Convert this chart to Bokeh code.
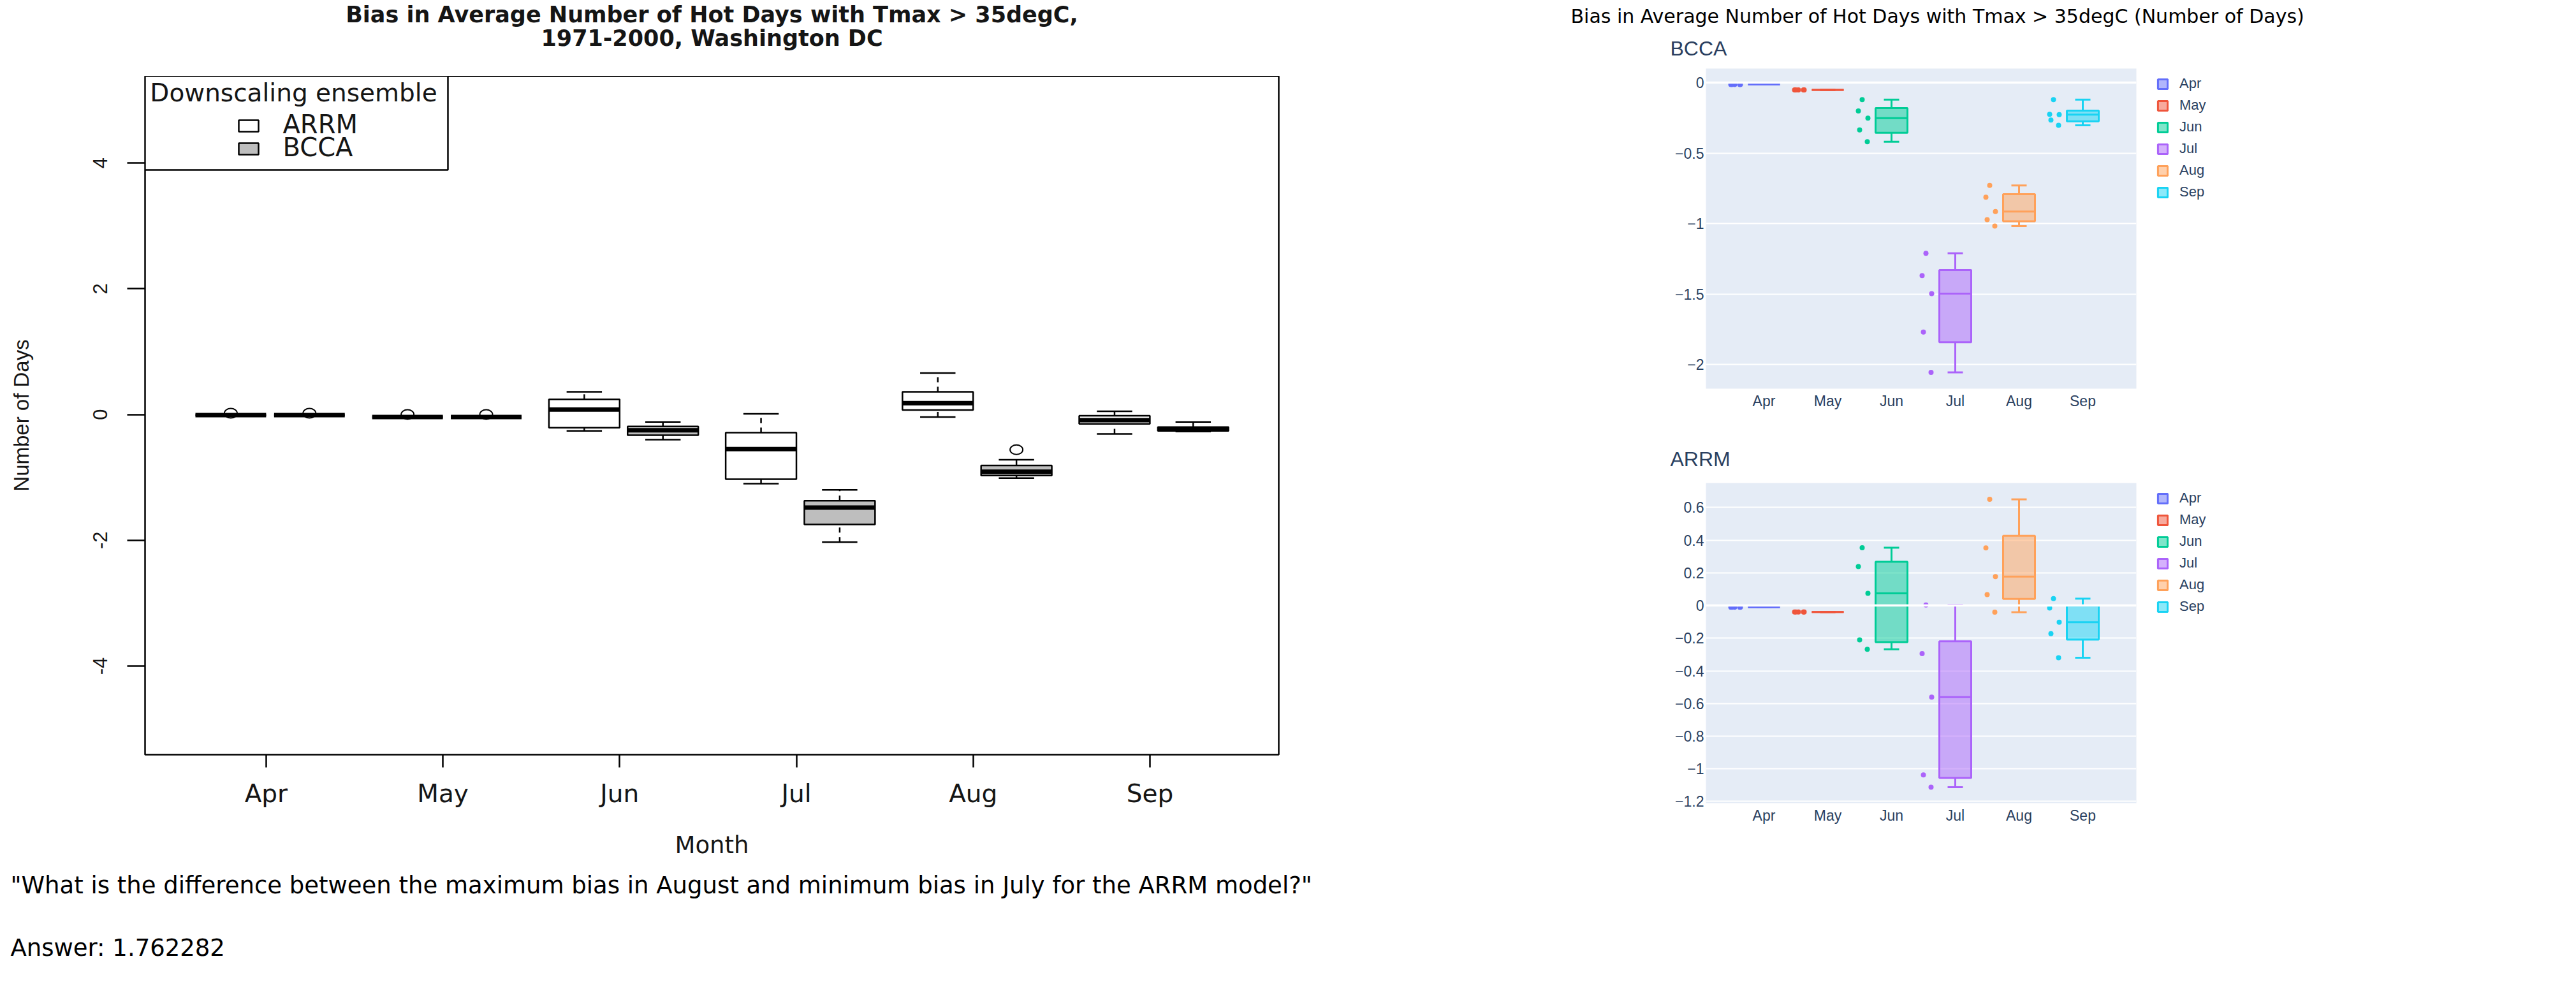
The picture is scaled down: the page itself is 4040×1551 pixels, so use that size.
import numpy as np
from bokeh.plotting import figure
from bokeh.models import Range1d, FixedTicker, Title, Legend, LegendItem, Span
from bokeh.layouts import row, column
from bokeh.embed import file_html
from bokeh.resources import INLINE
from bokeh.core.properties import value

MONTHS = ["Apr", "May", "Jun", "Jul", "Aug", "Sep"]

# ---------------- left (R boxplot) : summary values ----------------
R_ARRM_LO  = [-0.01, -0.04, -0.26, -1.10, -0.04, -0.31]
R_ARRM_Q1  = [-0.01, -0.04, -0.21, -1.03,  0.07, -0.15]
R_ARRM_MED = [-0.01, -0.04,  0.08, -0.55,  0.18, -0.09]
R_ARRM_Q3  = [-0.01, -0.04,  0.24, -0.29,  0.36, -0.02]
R_ARRM_HI  = [-0.01, -0.04,  0.36,  0.01,  0.66,  0.05]
R_BCCA_LO  = [-0.01, -0.04, -0.40, -2.03, -1.01, -0.27]
R_BCCA_Q1  = [-0.01, -0.04, -0.33, -1.75, -0.97, -0.26]
R_BCCA_MED = [-0.01, -0.04, -0.25, -1.48, -0.91, -0.23]
R_BCCA_Q3  = [-0.01, -0.04, -0.19, -1.37, -0.81, -0.20]
R_BCCA_HI  = [-0.01, -0.04, -0.12, -1.20, -0.72, -0.12]
R_ARRM_OUT_MONTH = ["Apr", "May"]
R_ARRM_OUT_VAL = [0.02, 0.00]
R_BCCA_OUT_MONTH = ["Apr", "May", "Aug"]
R_BCCA_OUT_VAL = [0.02, 0.00, -0.56]
R_Y_TICKS = [-4, -2, 0, 2, 4]
R_TITLE_1 = "Bias in Average Number of Hot Days with Tmax > 35degC,"
R_TITLE_2 = "1971-2000, Washington DC"

# ---------------- right (plotly-style) : ensemble member values per month ----------------
ARRM_APR = [-0.01, -0.01, -0.01, -0.01, -0.01]
ARRM_MAY = [-0.04, -0.04, -0.04, -0.04, -0.04]
ARRM_JUN = [0.354, 0.239, 0.075, -0.210, -0.268]
ARRM_JUL = [0.003, -0.294, -0.561, -1.037, -1.112]
ARRM_AUG = [0.650, 0.353, 0.177, 0.067, -0.041]
ARRM_SEP = [0.042, -0.015, -0.102, -0.172, -0.320]
BCCA_APR = [-0.013, -0.013, -0.013, -0.013, -0.013]
BCCA_MAY = [-0.051, -0.051, -0.051, -0.051, -0.051]
BCCA_JUN = [-0.120, -0.201, -0.252, -0.335, -0.419]
BCCA_JUL = [-1.210, -1.368, -1.496, -1.769, -2.055]
BCCA_AUG = [-0.729, -0.812, -0.914, -0.972, -1.017]
BCCA_SEP = [-0.120, -0.224, -0.227, -0.265, -0.303]
BCCA_TICKS = [0, -0.5, -1, -1.5, -2]
ARRM_TICKS = [0.6, 0.4, 0.2, 0, -0.2, -0.4, -0.6, -0.8, -1, -1.2]

QUESTION = '"What is the difference between the maximum bias in August and minimum bias in July for the ARRM model?"'
ANSWER = "Answer: 1.762282"

# ---------------- styles ----------------
PCOLORS = ["#636EFA", "#EF553B", "#00CC96", "#AB63FA", "#FFA15A", "#19D3F3"]
JITTER = [-0.46, -0.52, -0.37, -0.50, -0.38]
INK = "#151515"
PTXT = "#2a3f5f"

# ======================= LEFT FIGURE =======================
LEFT_COL_W = 2440
LF_LEFT, LF_TOP, LF_W, LF_H = 227, 119, 1778, 1064
LF_RIGHT_BORDER = LEFT_COL_W - LF_LEFT - LF_W
LX0, LX1 = -0.685, 5.729
LY0, LY1 = -5.409, 5.379


def lx(px):
    return LX0 + (px - LF_LEFT) * (LX1 - LX0) / LF_W


def ly(py):
    return LY1 - (py - LF_TOP) * (LY1 - LY0) / LF_H


# title strip above the R chart (frame spans the same columns as the chart frame)
tfig = figure(frame_width=LF_W, frame_height=LF_TOP, title=None,
              x_range=Range1d(0, 1), y_range=Range1d(LF_TOP, 0),
              output_backend="svg", toolbar_location=None,
              min_border_left=LF_LEFT, min_border_right=LF_RIGHT_BORDER,
              min_border_top=0, min_border_bottom=0)
tfig.axis.visible = False
tfig.grid.visible = False
tfig.outline_line_color = None
tfig.text(x=[0.5, 0.5], y=[22, 59], text=[R_TITLE_1, R_TITLE_2], text_align="center",
          text_baseline="middle", text_font=value("DejaVu Sans"), text_font_size="35px",
          text_font_style="bold", text_color=INK)

left = figure(frame_width=LF_W, frame_height=LF_H, title=None,
              x_range=Range1d(LX0, LX1), y_range=Range1d(LY0, LY1),
              output_backend="svg", toolbar_location=None,
              min_border_left=LF_LEFT, min_border_top=0,
              min_border_right=LF_RIGHT_BORDER, min_border_bottom=0,
              background_fill_color="white", border_fill_color="white")
left.xgrid.visible = False
left.ygrid.visible = False
left.outline_line_color = "black"
left.outline_line_width = 2.5

xi = list(range(len(MONTHS)))
left.xaxis.ticker = FixedTicker(ticks=xi)
left.xaxis.major_label_overrides = {i: m for i, m in zip(xi, MONTHS)}
left.yaxis.ticker = FixedTicker(ticks=R_Y_TICKS)
left.yaxis.major_label_overrides = {t: str(t) for t in R_Y_TICKS}
for ax in (left.xaxis, left.yaxis):
    ax.axis_line_color = None
    ax.minor_tick_line_color = None
    ax.major_tick_line_color = "black"
    ax.major_tick_line_width = 2.5
    ax.major_tick_in = 0
    ax.major_label_text_color = INK
    ax.axis_label_text_color = INK
    ax.axis_label_text_font_style = "normal"
left.xaxis.major_tick_out = 20
left.xaxis.major_label_text_font = "DejaVu Sans"
left.xaxis.major_label_text_font_size = "39px"
left.xaxis.major_label_standoff = 18
left.xaxis.axis_label = "Month"
left.xaxis.axis_label_text_font = "DejaVu Sans"
left.xaxis.axis_label_text_font_size = "37px"
left.xaxis.axis_label_standoff = 34
left.yaxis.major_tick_out = 28
left.yaxis.major_label_orientation = "vertical"
left.yaxis.major_label_text_font = "Liberation Sans"
left.yaxis.major_label_text_font_size = "31px"
left.yaxis.major_label_standoff = 31
left.yaxis.axis_label = "Number of Days"
left.yaxis.axis_label_text_font = "Liberation Sans"
left.yaxis.axis_label_text_font_size = "33px"
left.yaxis.axis_label_standoff = 92

# question / answer under the chart
q_title = Title(text=QUESTION, align="left", offset=11 - LF_LEFT + 5, text_font="DejaVu Sans",
                text_font_size="37px", text_font_style="normal", text_color="black", standoff=31)
left.add_layout(q_title, "below")
a_title = Title(text=ANSWER, align="left", offset=11 - LF_LEFT + 5, text_font="DejaVu Sans",
                text_font_size="37px", text_font_style="normal", text_color="black", standoff=74)
left.add_layout(a_title, "below")


def r_boxes(p, offset, lo, q1, med, q3, hi, fill):
    x = [i + offset for i in xi]
    half, cap = 0.2, 0.1
    p.segment(x0=x, y0=q3, x1=x, y1=hi, line_color="black", line_width=2.5, line_dash="8 7")
    p.segment(x0=x, y0=lo, x1=x, y1=q1, line_color="black", line_width=2.5, line_dash="8 7")
    p.quad(left=[v - half for v in x], right=[v + half for v in x], bottom=q1, top=q3,
           fill_color=fill, line_color="black", line_width=2.5)
    p.segment(x0=[v - half for v in x], y0=med, x1=[v + half for v in x], y1=med,
              line_color="black", line_width=7, line_cap="butt")
    p.segment(x0=[v - cap for v in x], y0=hi, x1=[v + cap for v in x], y1=hi,
              line_color="black", line_width=2.5)
    p.segment(x0=[v - cap for v in x], y0=lo, x1=[v + cap for v in x], y1=lo,
              line_color="black", line_width=2.5)


R_OFF_ARRM, R_OFF_BCCA = -0.2, 0.245
r_boxes(left, R_OFF_ARRM, R_ARRM_LO, R_ARRM_Q1, R_ARRM_MED, R_ARRM_Q3, R_ARRM_HI, "white")
r_boxes(left, R_OFF_BCCA, R_BCCA_LO, R_BCCA_Q1, R_BCCA_MED, R_BCCA_Q3, R_BCCA_HI, "#bebebe")
left.ellipse(x=[MONTHS.index(m) + R_OFF_ARRM for m in R_ARRM_OUT_MONTH], y=R_ARRM_OUT_VAL,
             width=20, height=15, width_units="screen", height_units="screen",
             fill_color=None, line_color="black", line_width=2)
left.ellipse(x=[MONTHS.index(m) + R_OFF_BCCA for m in R_BCCA_OUT_MONTH], y=R_BCCA_OUT_VAL,
             width=20, height=15, width_units="screen", height_units="screen",
             fill_color=None, line_color="black", line_width=2)

# R-style legend box
left.quad(left=[lx(227)], right=[lx(702)], top=[ly(119)], bottom=[ly(266)],
          fill_color="white", line_color="black", line_width=2.5)
left.text(x=[lx(460)], y=[ly(145)], text=["Downscaling ensemble"], text_align="center",
          text_baseline="middle", text_font=value("DejaVu Sans"), text_font_size="39px",
          text_color=INK)
left.quad(left=[lx(374), lx(374)], right=[lx(405), lx(405)],
          top=[ly(188), ly(224)], bottom=[ly(206), ly(242)],
          fill_color=["white", "#bebebe"], line_color="black", line_width=2.5)
left.text(x=[lx(443), lx(443)], y=[ly(194), ly(230)], text=["ARRM", "BCCA"],
          text_align="left", text_baseline="middle", text_font=value("DejaVu Sans"),
          text_font_size="40px", text_color=INK)

# ======================= RIGHT FIGURES =======================
RF_W, RF_H = 675, 502
R_LEFT_BORDER = 2675 - LEFT_COL_W
R_RIGHT_BORDER = 1590 - R_LEFT_BORDER - RF_W


def stats(vals):
    s = sorted(vals)
    n = len(s)

    def at(pos):
        lo = int(np.floor(pos))
        hi = int(np.ceil(pos))
        f = pos - lo
        return s[lo - 1] + f * (s[hi - 1] - s[lo - 1])

    q1 = at((n + 2) / 4)
    q3 = at((3 * n + 2) / 4)
    med = float(np.median(s))
    iqr = q3 - q1
    wlo = min(v for v in s if v >= q1 - 1.5 * iqr)
    whi = max(v for v in s if v <= q3 + 1.5 * iqr)
    return wlo, q1, med, q3, whi


def make_panel(name, series, y0, y1, ticks, top_border, sub_standoff, super_title=None):
    p = figure(frame_width=RF_W, frame_height=RF_H, x_range=Range1d(-0.91, 5.84),
               y_range=Range1d(y0, y1), output_backend="svg", toolbar_location=None,
               min_border_left=R_LEFT_BORDER, min_border_right=R_RIGHT_BORDER,
               min_border_top=top_border, min_border_bottom=60,
               background_fill_color="#E5ECF6", border_fill_color="white")
    p.outline_line_color = None
    p.xgrid.visible = False
    p.ygrid.grid_line_color = "white"
    p.ygrid.grid_line_width = 2
    p.add_layout(Span(location=0, dimension="width", line_color="white", line_width=3.5))
    p.xaxis.ticker = FixedTicker(ticks=xi)
    p.xaxis.major_label_overrides = {i: m for i, m in zip(xi, MONTHS)}
    p.yaxis.ticker = FixedTicker(ticks=ticks)
    p.yaxis.major_label_overrides = {t: ("%g" % t).replace("-", "\u2212") for t in ticks}
    for ax in (p.xaxis, p.yaxis):
        ax.axis_line_color = None
        ax.major_tick_line_color = None
        ax.minor_tick_line_color = None
        ax.major_tick_out = 0
        ax.major_tick_in = 0
        ax.major_label_text_font = "Liberation Sans"
        ax.major_label_text_font_size = "23px"
        ax.major_label_text_color = PTXT
    p.xaxis.major_label_standoff = 6
    p.yaxis.major_label_standoff = 3

    sub = Title(text=name, align="left", offset=-56, text_font="Liberation Sans",
                text_font_size="32px", text_font_style="normal", text_color=PTXT,
                standoff=sub_standoff)
    p.add_layout(sub, "above")
    if super_title:
        p.title.text = super_title
        p.title.align = "left"
        p.title.offset = 2463 - 2675
        p.title.text_font = "DejaVu Sans"
        p.title.text_font_size = "30px"
        p.title.text_font_style = "normal"
        p.title.text_color = "black"
        p.title.standoff = 0

    items = []
    for i, (m, vals) in enumerate(zip(MONTHS, series)):
        c = PCOLORS[i]
        wlo, q1, med, q3, whi = stats(vals)
        p.segment(x0=[i, i], y0=[q3, wlo], x1=[i, i], y1=[whi, q1], line_color=c, line_width=3)
        p.segment(x0=[i - 0.12, i - 0.12], y0=[whi, wlo], x1=[i + 0.12, i + 0.12], y1=[whi, wlo],
                  line_color=c, line_width=3)
        r = p.quad(left=[i - 0.25], right=[i + 0.25], bottom=[q1], top=[q3],
                   fill_color=c, fill_alpha=0.5, line_color=c, line_width=3)
        p.segment(x0=[i - 0.25], y0=[med], x1=[i + 0.25], y1=[med], line_color=c, line_width=3)
        p.scatter(x=[i + j for j in JITTER[:len(vals)]], y=vals, size=8, color=c, line_width=0)
        items.append(LegendItem(label=m, renderers=[r]))
    leg = Legend(items=items, location=(32, 295), orientation="vertical",
                 glyph_width=19, glyph_height=19, label_height=24, label_standoff=17,
                 spacing=8, padding=0, margin=0, border_line_color=None,
                 background_fill_alpha=0, label_text_font="Liberation Sans",
                 label_text_font_size="22px", label_text_color=PTXT)
    p.add_layout(leg, "right")
    return p


bcca = make_panel("BCCA", [BCCA_APR, BCCA_MAY, BCCA_JUN, BCCA_JUL, BCCA_AUG, BCCA_SEP],
                  -2.17, 0.1, BCCA_TICKS, 107, 27,
                  super_title="Bias in Average Number of Hot Days with Tmax > 35degC (Number of Days)")
arrm = make_panel("ARRM", [ARRM_APR, ARRM_MAY, ARRM_JUN, ARRM_JUL, ARRM_AUG, ARRM_SEP],
                  -1.21, 0.75, ARRM_TICKS, 757 - (107 + RF_H + 60), 40)

page = row(column(tfig, left), column(bcca, arrm))
open("out.html", "w").write(file_html(page, INLINE))
